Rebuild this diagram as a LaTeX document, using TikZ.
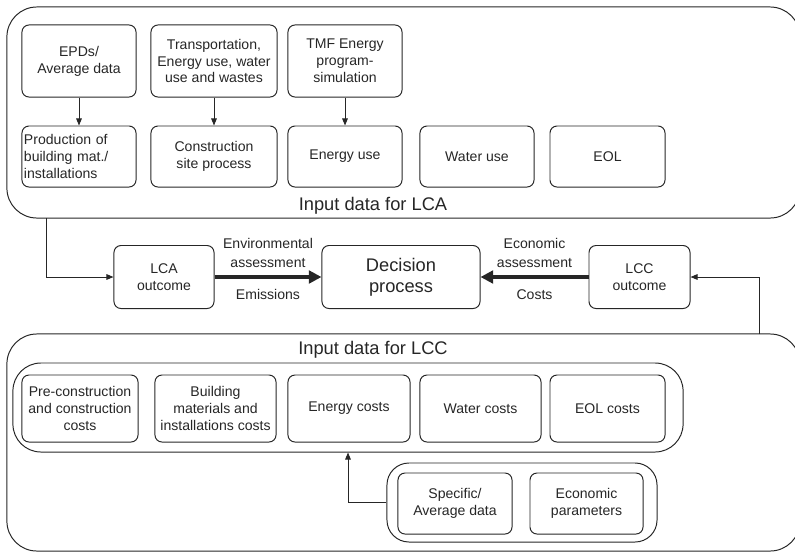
\documentclass[tikz,border=0pt]{standalone}
\usepackage{fontspec}
\setmainfont{Liberation Sans}
\usetikzlibrary{arrows.meta,positioning}

\begin{document}
\begin{tikzpicture}[x=0.025cm,y=-0.025cm,line width=0.7pt,black!85,
    box/.style={draw,rounded corners=5pt,align=center,inner sep=1pt,
        font=\fontsize{10}{12}\selectfont},
    group/.style={draw,rounded corners=#1},
    title/.style={font=\fontsize{13}{15}\selectfont},
    flow/.style={-{Triangle[length=5pt,width=4pt]}},
    bigflow/.style={line width=3pt,-{Triangle[length=9pt,width=9pt]}},
    label/.style={font=\fontsize{10}{13}\selectfont,align=center}]
    \useasboundingbox (0,0) rectangle (795,552);

    % Input data for LCA
    \node[group=0.75cm,minimum width=19.825cm,minimum height=5.275cm] (lcain) at (403.5,112.5) {};
    \node[title] (lcatitle) at (373,206) {Input data for LCA};

    \node[box,minimum width=2.85cm,minimum height=1.8cm] (epd) at (79,61) {EPDs/\\Average data};
    \node[box,minimum width=3.15cm,minimum height=1.8cm] (trans) at (214,61) {Transportation,\\Energy use, water\\use and wastes};
    \node[box,minimum width=2.85cm,minimum height=1.8cm] (tmf) at (345,61) {TMF Energy\\program-\\simulation};

    \node[box,align=left,text width=2.75cm,minimum width=2.85cm,minimum height=1.525cm] (prod) at (79,156.5) {Production of\\building mat./\\installations};
    \node[box,minimum width=3.15cm,minimum height=1.525cm] (site) at (214,156.5) {Construction\\site process};
    \node[box,minimum width=2.85cm,minimum height=1.525cm] (energy) at (345,156.5) {Energy use};
    \node[box,minimum width=2.85cm,minimum height=1.525cm] (water) at (477,156.5) {Water use};
    \node[box,minimum width=2.875cm,minimum height=1.525cm] (eol) at (607.5,156.5) {EOL};

    \draw[flow] (epd) -- (prod);
    \draw[flow] (trans) -- (site);
    \draw[flow] (tmf) -- (energy);

    % Outcomes and decision
    \node[box,minimum width=2.5cm,minimum height=1.575cm] (lca) at (164,277) {LCA\\outcome};
    \node[box,title,minimum width=3.95cm,minimum height=1.575cm] (dec) at (401,277) {Decision\\process};
    \node[box,minimum width=2.525cm,minimum height=1.575cm] (lcc) at (639.5,277) {LCC\\outcome};

    \draw[bigflow] (lca) -- (dec)
        node[midway,above=2pt,label] {Environmental\\assessment}
        node[midway,below=4pt,label] {Emissions};
    \draw[bigflow] (lcc) -- (dec)
        node[midway,above=2pt,label] {Economic\\assessment}
        node[midway,below=4pt,label] {Costs};

    \coordinate (lcafeed) at (46,218);
    \coordinate (lccfeed) at (759,334);
    \draw[flow] (lcafeed) |- (lca);
    \draw[flow] (lccfeed) |- (lcc);

    % Input data for LCC
    \node[group=0.75cm,minimum width=19.825cm,minimum height=5.425cm] (lccin) at (403.5,442.5) {};
    \node[title] (lcctitle) at (373,350) {Input data for LCC};

    \node[group=0.7cm,minimum width=16.75cm,minimum height=2.225cm] (costs) at (348,407.5) {};
    \node[box,minimum width=2.9cm,minimum height=1.675cm] (pre) at (80,408.5) {Pre-construction\\and construction\\costs};
    \node[box,minimum width=3.025cm,minimum height=1.675cm] (mat) at (215.5,408.5) {Building\\materials and\\installations costs};
    \node[box,minimum width=3.05cm,minimum height=1.675cm] (ecost) at (349,408.5) {Energy costs};
    \node[box,minimum width=3.025cm,minimum height=1.675cm] (wcost) at (480.5,408.5) {Water costs};
    \node[box,minimum width=2.875cm,minimum height=1.675cm] (eolcost) at (607.5,408.5) {EOL costs};

    \node[group=0.55cm,minimum width=6.75cm,minimum height=1.975cm] (params) at (522,502.5) {};
    \node[box,minimum width=2.85cm,minimum height=1.525cm] (spec) at (455,503.5) {Specific/\\Average data};
    \node[box,minimum width=2.825cm,minimum height=1.525cm] (econ) at (586.5,503.5) {Economic\\parameters};

    \draw[flow] (params.west) -| (costs.south);
\end{tikzpicture}
\end{document}
